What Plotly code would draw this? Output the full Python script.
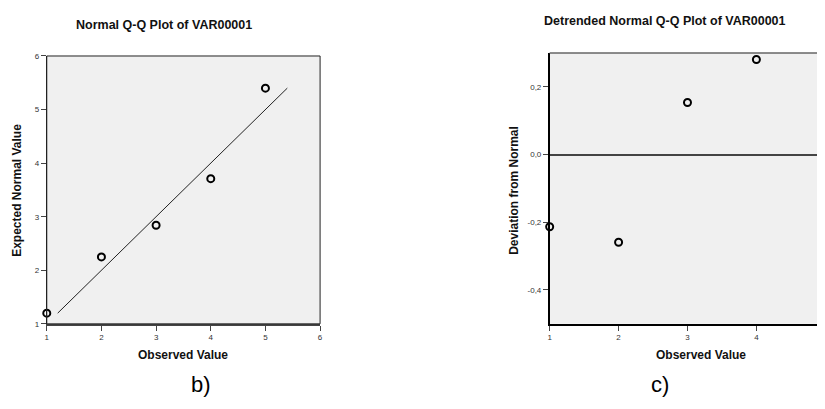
import plotly.graph_objects as go

OFF = 8  # default page body margin
W, H = 825 - OFF, 409 - OFF

# ---- data ----
observed = [1, 2, 3, 4, 5]
expected_normal = [1.20, 2.25, 2.84, 3.71, 5.40]
ref_line_x = [1.20, 5.40]
ref_line_y = [1.20, 5.40]

detrended_obs = [1, 2, 3, 4]
deviation = [-0.213, -0.259, 0.154, 0.281]

left_xticks = [1, 2, 3, 4, 5, 6]
left_yticks = [1, 2, 3, 4, 5, 6]
right_xticks = [1, 2, 3, 4]
right_yticks = [-0.4, -0.2, 0.0, 0.2]
right_yticklabels = ["-0,4", "-0,2", "0,0", "0,2"]


def px(x):
    return (x - OFF) / W


def py(y):
    return 1 - (y - OFF) / H


FONT = "Liberation Sans, Arial, sans-serif"
tickfont = dict(family=FONT, size=8, color="#333333")
marker = dict(symbol="circle-open", size=7, color="black", line=dict(width=2, color="black"))

fig = go.Figure()
fig.add_trace(go.Scatter(x=ref_line_x, y=ref_line_y, mode="lines",
                         line=dict(color="#222222", width=1), xaxis="x", yaxis="y",
                         showlegend=False, hoverinfo="skip"))
fig.add_trace(go.Scatter(x=observed, y=expected_normal, mode="markers", marker=marker,
                         xaxis="x", yaxis="y", showlegend=False, cliponaxis=False))
fig.add_trace(go.Scatter(x=detrended_obs, y=deviation, mode="markers", marker=marker,
                         xaxis="x2", yaxis="y2", showlegend=False, cliponaxis=False))

axis_common = dict(showgrid=False, ticks="outside", ticklen=5,
                   tickwidth=1, tickcolor="#444444", tickfont=tickfont, fixedrange=True)

fig.update_layout(
    width=W, height=H,
    margin=dict(l=0, r=0, t=0, b=0),
    paper_bgcolor="white",
    plot_bgcolor="#f0f0f0",
    xaxis=dict(domain=[px(45), px(320)], range=[1, 6], tickvals=left_xticks, zeroline=False,
               showline=True, linecolor="#444444", linewidth=2, anchor="y", **axis_common),
    yaxis=dict(domain=[py(327), py(53)], range=[1, 6], tickvals=left_yticks, zeroline=False,
               showline=True, linecolor="#222222", linewidth=1, anchor="x", **axis_common),
    xaxis2=dict(domain=[px(551), 1.0], range=[1, 1 + (825 - 551) / 69.33], tickvals=right_xticks,
                zeroline=False, showline=True, linecolor="black", linewidth=1.5, anchor="y2",
                **axis_common),
    yaxis2=dict(domain=[py(327), py(50)], range=[-0.5, 0.3], tickvals=right_yticks,
                ticktext=right_yticklabels, showline=True, linecolor="black", linewidth=1.5,
                anchor="x2", zeroline=True, zerolinecolor="#444444", zerolinewidth=1.5,
                **axis_common),
    shapes=[
        dict(type="rect", xref="x domain", yref="y domain", x0=0, x1=1, y0=0, y1=1,
             line=dict(color="#222222", width=1), layer="above"),
        dict(type="line", xref="x2 domain", yref="y2 domain", x0=0, x1=1, y0=1, y1=1,
             line=dict(color="#666666", width=1.5), layer="above"),
    ],
)

title_font = dict(family=FONT, size=12.5, color="#111111")
axis_font = dict(family=FONT, size=12, color="#111111")
labels = [
    ("<b>Normal Q-Q Plot of VAR00001</b>", 163, 21, 0, title_font),
    ("<b>Detrended Normal Q-Q Plot of VAR00001</b>", 667, 17, 0, title_font),
    ("<b>Observed Value</b>", 182, 359, 0, axis_font),
    ("<b>Observed Value</b>", 703, 359, 0, axis_font),
    ("<b>Expected Normal Value</b>", 15, 190, -90, axis_font),
    ("<b>Deviation from Normal</b>", 515, 190, -90, axis_font),
    ("b)", 200, 389, 0, dict(family=FONT, size=22, color="black")),
    ("c)", 662, 389, 0, dict(family=FONT, size=22, color="black")),
]
for text, x, y, ang, f in labels:
    fig.add_annotation(text=text, x=px(x), y=py(y), xref="paper", yref="paper",
                       xanchor="center", yanchor="middle", showarrow=False,
                       textangle=ang, font=f)

fig.write_html("out.html")
